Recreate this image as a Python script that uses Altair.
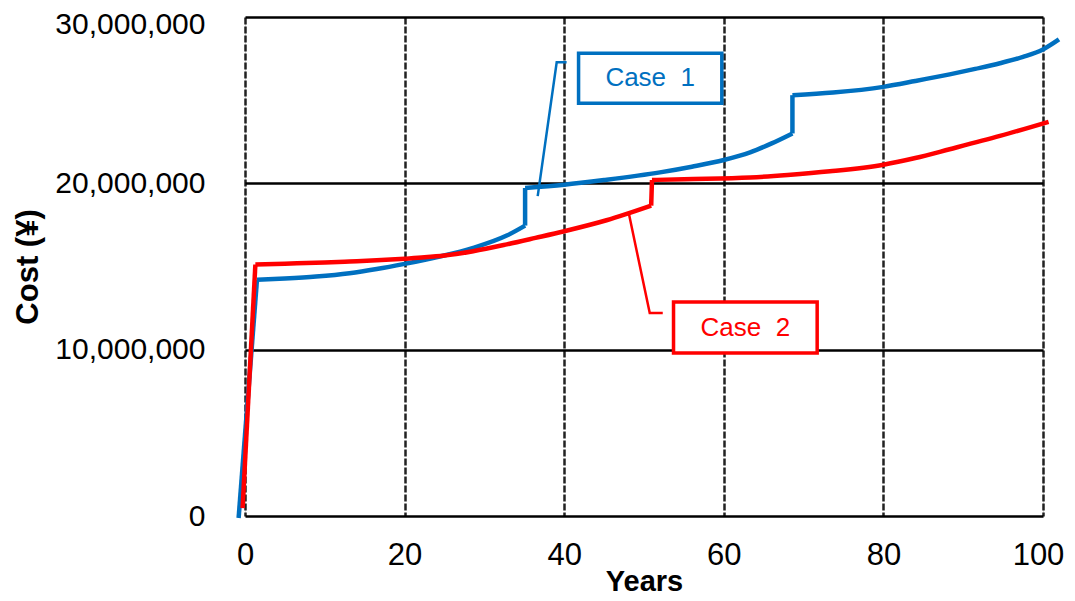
import altair as alt
import pandas as pd

# ---- data ----
case1_years = [-0.8, 1.5, 5, 8.9, 13.1, 16.5, 20, 24.4, 28.6, 32.8, 35.1, 35.1, 40, 45, 52, 56,
               60, 63.3, 66, 68.6, 68.6, 73.7, 80, 84, 88.3, 91.5, 94.6, 97.5, 100, 102]
case1_cost = [-0.12e6, 14.2e6, 14.28e6, 14.4e6, 14.6e6, 14.85e6, 15.16e6, 15.6e6, 16.12e6, 16.86e6,
              17.46e6, 19.72e6, 19.92e6, 20.2e6, 20.66e6, 21.0e6, 21.4e6, 21.86e6, 22.4e6, 23.0e6,
              25.3e6, 25.46e6, 25.8e6, 26.15e6, 26.55e6, 26.88e6, 27.22e6, 27.6e6, 28.05e6, 28.65e6]

case2_years = [-0.3, 1.3, 5, 10, 13.1, 16.5, 20, 22.5, 25, 28.6, 32.8, 36.4, 40, 45.3, 50.9, 51.0,
               55, 63.3, 68, 73.3, 80, 84, 88.3, 94.6, 100.7]
case2_cost = [0.48e6, 15.12e6, 15.17e6, 15.24e6, 15.3e6, 15.37e6, 15.47e6, 15.55e6, 15.66e6, 15.92e6,
              16.33e6, 16.72e6, 17.12e6, 17.78e6, 18.66e6, 20.2e6, 20.25e6, 20.35e6, 20.5e6,
              20.72e6, 21.12e6, 21.52e6, 22.05e6, 22.85e6, 23.7e6]

series_names = ["Case 1", "Case 2"]
series_colors = ["#0070C0", "#FF0000"]
box_labels = ["Case\u00a0 1", "Case\u00a0 2"]

x_ticks = [0, 20, 40, 60, 80, 100]
y_ticks = [0, 10_000_000, 20_000_000, 30_000_000]

# callout boxes (data coordinates)
box_x = [41.8, 53.7]
box_x2 = [59.75, 71.7]
box_y = [27.82e6, 12.86e6]
box_y2 = [24.82e6, 9.8e6]

# leader lines (data coordinates)
leader1_x = [40.3, 39.06, 36.68]
leader1_y = [27.28e6, 27.28e6, 19.23e6]
leader2_x = [52.35, 50.72, 48.09]
leader2_y = [12.2e6, 12.2e6, 18.21e6]

# ---- tables ----
smooth_rows, step_rows = [], []
for name, xs, ys in [("Case 1", case1_years, case1_cost), ("Case 2", case2_years, case2_cost)]:
    seg = 0
    for i in range(len(xs)):
        if i > 0:
            dx = xs[i] - xs[i - 1]
            dy = ys[i] - ys[i - 1]
            if dx <= 0.2 or abs(dy / dx) > 1e6:
                seg += 1
                gid = f"{name}-step-{seg}"
                step_rows.append({"series": name, "g": gid, "year": xs[i - 1], "cost": ys[i - 1], "idx": 0})
                step_rows.append({"series": name, "g": gid, "year": xs[i], "cost": ys[i], "idx": 1})
        smooth_rows.append({"series": name, "g": f"{name}-{seg}", "year": xs[i], "cost": ys[i], "idx": i})
smooth_df = pd.DataFrame(smooth_rows)
step_df = pd.DataFrame(step_rows)

lrows = []
for name, xs, ys in [("Case 1", leader1_x, leader1_y), ("Case 2", leader2_x, leader2_y)]:
    for i, (x, y) in enumerate(zip(xs, ys)):
        lrows.append({"series": name, "year": x, "cost": y, "idx": i})
leader_df = pd.DataFrame(lrows)

box_df = pd.DataFrame({
    "series": series_names, "label": box_labels,
    "x": box_x, "x2": box_x2, "y": box_y, "y2": box_y2,
    "cx": [(a + b) / 2 for a, b in zip(box_x, box_x2)],
    "cy": [(a + b) / 2 for a, b in zip(box_y, box_y2)],
})

FONT = "Liberation Sans"
color_scale = alt.Scale(domain=series_names, range=series_colors)

xscale = alt.Scale(domain=[0, 100], nice=False, zero=False)
yscale = alt.Scale(domain=[0, 30_000_000], nice=False)

x_axis = alt.Axis(values=x_ticks, title="Years", labelFont=FONT, labelFontSize=31,
                  titleFont=FONT, titleFontSize=29, titleFontWeight="bold",
                  labelColor="black", titleColor="black", tickSize=0, domain=False,
                  labelPadding=24, titlePadding=-3, grid=True, gridColor="#222222",
                  gridDash=[7, 2], gridWidth=2.5, gridOpacity=1, labelFlush=False,
                  labelOffset=alt.condition("datum.value == 100", alt.value(-5), alt.value(0)))
y_axis = alt.Axis(values=y_ticks, format=",d", title="Cost (¥)", labelFont=FONT,
                  labelFontSize=30, titleFont=FONT, titleFontSize=31,
                  titleFontWeight="bold", labelColor="black", titleColor="black",
                  tickSize=0, domain=False, labelPadding=40, titlePadding=10,
                  grid=True, gridColor="black", gridWidth=2.5, gridOpacity=1,
                  labelFlush=False,
                  labelOffset=alt.condition("datum.value == 30000000", alt.value(7), alt.value(0)))

smooth = alt.Chart(smooth_df).mark_line(strokeWidth=4.5, clip=False, interpolate="monotone").encode(
    x=alt.X("year:Q", scale=xscale, axis=x_axis),
    y=alt.Y("cost:Q", scale=yscale, axis=y_axis),
    color=alt.Color("series:N", scale=color_scale, legend=None),
    order="idx:Q",
    detail="g:N",
)

steps = alt.Chart(step_df).mark_line(strokeWidth=4.5, clip=False).encode(
    x="year:Q", y="cost:Q",
    color=alt.Color("series:N", scale=color_scale, legend=None),
    order="idx:Q", detail="g:N",
)

leaders = alt.Chart(leader_df).mark_line(strokeWidth=2.5, clip=False).encode(
    x="year:Q", y="cost:Q",
    color=alt.Color("series:N", scale=color_scale, legend=None),
    order="idx:Q", detail="series:N",
)

boxes = alt.Chart(box_df).mark_rect(fill="white", strokeWidth=3.5).encode(
    x="x:Q", x2="x2:Q", y="y:Q", y2="y2:Q",
    stroke=alt.Stroke("series:N", scale=color_scale, legend=None),
)

texts = alt.Chart(box_df).mark_text(font=FONT, fontSize=26, align="center",
                                    baseline="middle").encode(
    x="cx:Q", y="cy:Q", text="label:N",
    color=alt.Color("series:N", scale=color_scale, legend=None),
)

chart = alt.layer(smooth, steps, leaders, boxes, texts).properties(
    width=798, height=499,
    autosize=alt.AutoSizeParams(type="none"),
    padding={"left": 237, "top": 9, "right": 22, "bottom": 81},
).configure_view(stroke="black", strokeWidth=4).configure(background="white")

chart.save("out.html", embed_options={"renderer": "svg", "actions": False})
